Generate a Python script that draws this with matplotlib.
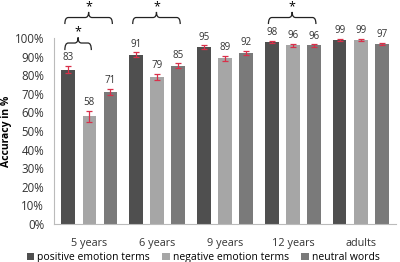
import numpy as np
import matplotlib
matplotlib.use('Agg')
import matplotlib.pyplot as plt
from matplotlib.path import Path
from matplotlib.patches import PathPatch

plt.rcParams['font.family'] = ['Open Sans', 'DejaVu Sans']

groups = ['5 years', '6 years', '9 years', '12 years', 'adults']
series = ['positive emotion terms', 'negative emotion terms', 'neutral words']
positive = [83, 91, 95, 98, 99]
negative = [58, 79, 89, 96, 99]
neutral = [71, 85, 92, 96, 97]
positive_err = [2.0, 1.3, 1.0, 0.6, 0.5]
negative_err = [2.9, 1.8, 1.5, 0.8, 0.4]
neutral_err = [1.8, 1.3, 1.0, 0.6, 0.5]
colors = ['#4f4f4f', '#a6a6a6', '#7a7a7a']
yticks = [0, 10, 20, 30, 40, 50, 60, 70, 80, 90, 100]

# significance braces: (group, first bar, last bar, level)
braces = [(0, 0, 2, 'high'), (0, 0, 1, 'low'), (1, 0, 2, 'high'), (3, 0, 2, 'high')]

fig = plt.figure(figsize=(4, 2.62), dpi=100)
ax = fig.add_axes([0.135, 0.145, 0.855, 0.71])

x = np.arange(len(groups))
w = 0.2
step = 0.31
vals = [positive, negative, neutral]
errs = [positive_err, negative_err, neutral_err]
for i in range(3):
    xs = x + (i - 1) * step
    ax.bar(xs, vals[i], w, color=colors[i], label=series[i], zorder=2)
    ax.errorbar(xs, vals[i], yerr=errs[i], fmt='none', ecolor='#d9304a',
                elinewidth=0.9, capsize=2.2, capthick=0.9, zorder=3)
    for xx, v, e in zip(xs, vals[i], errs[i]):
        ax.annotate(str(v), (xx, v + e), xytext=(0, 2), textcoords='offset points',
                    ha='center', va='bottom', fontsize=7, color='#333333')


def brace(x0, x1, ylow, ymid, ytop):
    xc = (x0 + x1) / 2
    d = 0.05
    verts = [(x0, ylow), (x0, ymid), (x0 + d, ymid),
             (xc - d, ymid), (xc, ymid), (xc, ytop),
             (xc, ymid), (xc + d, ymid),
             (x1 - d, ymid), (x1, ymid), (x1, ylow)]
    codes = [Path.MOVETO, Path.CURVE3, Path.CURVE3,
             Path.LINETO, Path.CURVE3, Path.CURVE3,
             Path.CURVE3, Path.CURVE3,
             Path.LINETO, Path.CURVE3, Path.CURVE3]
    p = PathPatch(Path(verts, codes), fill=False, lw=0.9, color='#222222', clip_on=False)
    ax.add_patch(p)
    ax.text(xc, ytop - 0.6, '*', ha='center', va='bottom', fontsize=9, clip_on=False)


for g, b0, b1, level in braces:
    x0 = g + (b0 - 1) * step - 0.05
    x1 = g + (b1 - 1) * step + 0.03
    if level == 'high':
        brace(x0, x1, 107.5, 111, 114)
    else:
        brace(x0, x1, 93.5, 97.3, 100.3)

ax.set_ylim(0, 100)
ax.set_xlim(-0.52, 4.52)
ax.set_yticks(yticks)
ax.set_yticklabels([f'{t}%' for t in yticks], fontsize=8.3, color='#333333')
ax.set_xticks(x)
ax.set_xticklabels(groups, fontsize=7.8, color='#333333')
ax.tick_params(length=0)
ax.tick_params(axis='y', pad=7)
ax.tick_params(axis='x', pad=10)
for s in ['top', 'right']:
    ax.spines[s].set_visible(False)
ax.spines['left'].set_color('#bbbbbb')
ax.spines['bottom'].set_color('#bbbbbb')
ax.set_ylabel('Accuracy in %', fontsize=7.5, fontweight='bold', labelpad=2)

ax.legend(loc='upper center', bbox_to_anchor=(0.436, -0.13), ncol=3, frameon=False,
          fontsize=7.5, handlelength=0.7, handleheight=0.7, handletextpad=0.3,
          columnspacing=1.2, borderaxespad=0)

fig.savefig('out.png', dpi=100)
